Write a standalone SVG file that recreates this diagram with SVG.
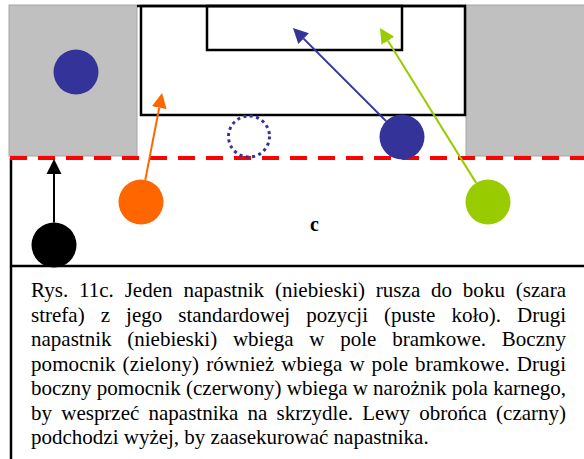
<svg xmlns="http://www.w3.org/2000/svg" width="584" height="459" viewBox="0 0 584 459">
<style>
.zone{fill:#c0c0c0;stroke:#a6a6a6;stroke-width:1}
.fl{fill:none;stroke:#000;stroke-width:2.5}
.red{stroke:#ff0000;stroke-width:4;stroke-dasharray:17 11}
.cap{font-family:"Liberation Serif","Times New Roman",serif;font-size:21px;fill:#000}
.lbl{font-family:"Liberation Serif","Times New Roman",serif;font-size:20px;font-weight:bold;fill:#000}
.ar{fill:none;stroke-width:2}
</style>
<defs>
<marker id="mBlack" markerUnits="userSpaceOnUse" markerWidth="16" markerHeight="16" viewBox="0 -8 16 16" refX="0" refY="0" orient="auto"><path d="M0,-7.5 L15,0 L0,7.5 z" fill="#000"/></marker>
<marker id="mOrange" markerUnits="userSpaceOnUse" markerWidth="16" markerHeight="16" viewBox="0 -8 16 16" refX="0" refY="0" orient="auto"><path d="M0,-7.5 L15,0 L0,7.5 z" fill="#ff6600"/></marker>
<marker id="mBlue" markerUnits="userSpaceOnUse" markerWidth="16" markerHeight="16" viewBox="0 -8 16 16" refX="0" refY="0" orient="auto"><path d="M0,-7.5 L15,0 L0,7.5 z" fill="#333399"/></marker>
<marker id="mGreen" markerUnits="userSpaceOnUse" markerWidth="16" markerHeight="16" viewBox="0 -8 16 16" refX="0" refY="0" orient="auto"><path d="M0,-7.5 L15,0 L0,7.5 z" fill="#99cc00"/></marker>
</defs>
<rect width="584" height="459" fill="#fff"/>
<g id="field">
<rect class="zone" x="9" y="5" width="128" height="151"/>
<rect class="zone" x="466" y="5" width="119" height="151"/>
<line class="fl" x1="137" y1="6" x2="466" y2="6"/>
<rect class="fl" x="141" y="6" width="324" height="109"/>
<rect class="fl" x="207" y="6" width="195" height="44"/>
<line class="fl" x1="11" y1="158" x2="11" y2="459"/>
<line class="fl" x1="11" y1="266" x2="584" y2="266"/>
<line class="red" x1="10" y1="158" x2="584" y2="158"/>
<text class="lbl" x="314.5" y="231" text-anchor="middle">c</text>
</g>
<g id="blue-wide"><circle cx="76" cy="72" r="22.5" fill="#333399"/></g>
<g id="blue-empty"><circle cx="249" cy="136.5" r="20.5" fill="none" stroke="#333399" stroke-width="3" stroke-dasharray="3 3.45"/></g>
<g id="blue-striker"><circle cx="402" cy="137" r="22.5" fill="#333399"/></g>
<g id="green"><circle cx="488" cy="202" r="22.5" fill="#99cc00"/></g>
<g id="orange"><circle cx="141" cy="202" r="22.5" fill="#ff6600"/></g>
<g id="black"><circle cx="54" cy="245" r="22.5" fill="#000"/></g>
<g id="connectors">
<line class="ar" x1="54" y1="222.5" x2="54" y2="174" stroke="#000" stroke-width="3" marker-end="url(#mBlack)"/>
<line class="ar" x1="145.3" y1="179.9" x2="159.2" y2="107.7" stroke="#ff6600" marker-end="url(#mOrange)"/>
<line class="ar" x1="386.1" y1="121.1" x2="303.6" y2="38.6" stroke="#333399" marker-end="url(#mBlue)"/>
<line class="ar" x1="476.1" y1="182.9" x2="387.9" y2="40.7" stroke="#99cc00" marker-end="url(#mGreen)"/>
</g>
<g id="caption" class="cap">
<text x="31" y="297" word-spacing="5.5" textLength="535" lengthAdjust="spacing">Rys. 11c. Jeden napastnik (niebieski) rusza do boku (szara</text>
<text x="31" y="321.5" word-spacing="10.8" textLength="535" lengthAdjust="spacing">strefa) z jego standardowej pozycji (puste koło). Drugi</text>
<text x="31" y="346" word-spacing="10.5" textLength="535" lengthAdjust="spacing">napastnik (niebieski) wbiega w pole bramkowe. Boczny</text>
<text x="31" y="370.5" word-spacing="1.6" textLength="535" lengthAdjust="spacing">pomocnik (zielony) również wbiega w pole bramkowe. Drugi</text>
<text x="31" y="395" textLength="535" lengthAdjust="spacing">boczny pomocnik (czerwony) wbiega w narożnik pola karnego,</text>
<text x="31" y="419.5" word-spacing="4" textLength="535" lengthAdjust="spacing">by wesprzeć napastnika na skrzydle. Lewy obrońca (czarny)</text>
<text x="31" y="444">podchodzi wyżej, by zaasekurować napastnika.</text>
</g>
</svg>
